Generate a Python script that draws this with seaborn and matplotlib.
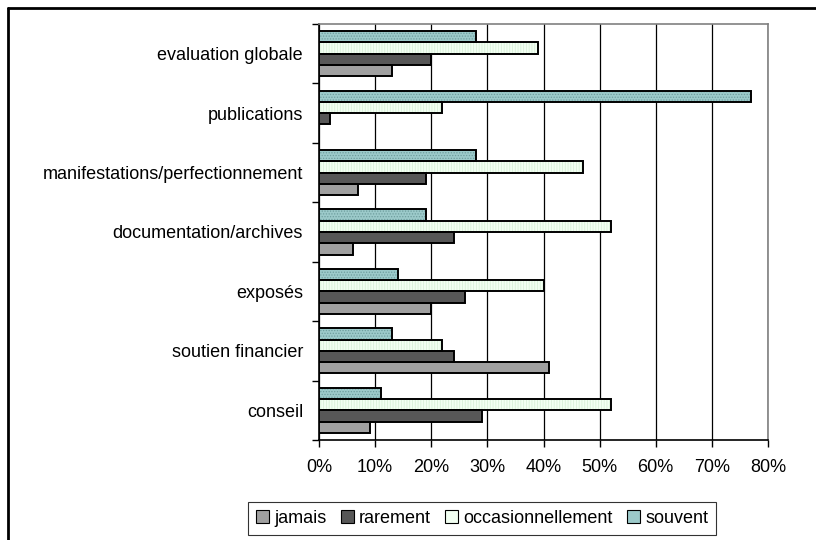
import matplotlib
matplotlib.use("Agg")
import numpy as np
import pandas as pd
import matplotlib.pyplot as plt
import seaborn as sns
from matplotlib.patches import Rectangle, Patch
from matplotlib.lines import Line2D
from matplotlib.ticker import PercentFormatter, FixedLocator

# data (percent)
categories = ["evaluation globale", "publications", "manifestations/perfectionnement",
              "documentation/archives", "exposés", "soutien financier", "conseil"]
jamais = [13, 0, 7, 6, 20, 41, 9]
rarement = [20, 2, 19, 24, 26, 24, 29]
occasionnellement = [39, 22, 47, 52, 40, 22, 52]
souvent = [28, 77, 28, 19, 14, 13, 11]

levels = ["jamais", "rarement", "occasionnellement", "souvent"]
colors = {"jamais": "#A0A0A0", "rarement": "#575757",
          "occasionnellement": "#F2FFF2", "souvent": "#9CCACA"}
hatches = {"occasionnellement": ("||||||", "#D8F0D8"), "souvent": ("......", "#6E9E9E")}

df = pd.DataFrame({
    "categorie": categories * 4,
    "niveau": sum([[lv] * len(categories) for lv in levels], []),
    "pct": jamais + rarement + occasionnellement + souvent,
})

FS = 13

sns.set_style("white")
plt.rcParams["font.family"] = ["Liberation Sans", "DejaVu Sans"]
plt.rcParams["hatch.linewidth"] = 0.6
plt.rcParams["text.color"] = "black"
plt.rcParams["xtick.color"] = "black"
plt.rcParams["ytick.color"] = "black"

fig = plt.figure(figsize=(8.16, 5.4), dpi=100)
ax = fig.add_axes([319 / 816, 1 - 440 / 540, (768 - 319) / 816, (440 - 24) / 540])

# top-to-bottom inside each group: souvent ... jamais
draw_order = levels[::-1]
sns.barplot(data=df, y="categorie", x="pct", hue="niveau", order=categories,
            hue_order=draw_order, palette=colors, orient="h", width=0.76,
            saturation=1, legend=False, ax=ax, zorder=3)

for cont, lv in zip(ax.containers, draw_order):
    for bar in cont:
        if lv in hatches:
            h, hc = hatches[lv]
            bar.set_hatch(h)
            bar.set_edgecolor(hc)
        else:
            bar.set_edgecolor("black")
        bar.set_linewidth(0)
        if bar.get_width() > 0:
            ax.add_patch(Rectangle(bar.get_xy(), bar.get_width(), bar.get_height(),
                                   fill=False, edgecolor="black", lw=1.4, zorder=4))

ax.set_xlim(0, 80)
ax.set_ylim(len(categories) - 0.5, -0.5)
ax.set_xticks(range(0, 81, 10))
ax.xaxis.set_major_formatter(PercentFormatter(xmax=100, decimals=0))
ax.set_xlabel("")
ax.set_ylabel("")

ax.grid(axis="x", color="black", lw=0.9, zorder=0)
ax.grid(axis="y", visible=False)

# category ticks sit between the groups
ax.yaxis.set_minor_locator(FixedLocator(np.arange(-0.5, len(categories), 1)))
ax.tick_params(axis="y", which="major", length=0, pad=11.5, labelsize=FS)
ax.tick_params(axis="y", which="minor", length=5, width=1, color="black", left=True)
ax.tick_params(axis="x", length=5, width=1, color="black", bottom=True,
               pad=9, labelsize=FS)

for side in ["left", "bottom"]:
    ax.spines[side].set_color("black")
    ax.spines[side].set_linewidth(1.2)
for side in ["top", "right"]:
    ax.spines[side].set_color("#808080")
    ax.spines[side].set_linewidth(1.2)

handles = [Patch(facecolor=colors[lv], edgecolor="black", lw=0.8) for lv in levels]
leg = fig.legend(handles, levels, loc="lower left", bbox_to_anchor=(248 / 816, 5 / 540),
                 ncol=4, frameon=True, fancybox=False, fontsize=FS,
                 handlelength=0.7, handleheight=0.7, handletextpad=0.3,
                 columnspacing=0.8, borderpad=0.45, borderaxespad=0)
leg.get_frame().set_edgecolor("black")
leg.get_frame().set_linewidth(0.8)

# outer chart frame (only top and left edges visible in the crop)
fig.add_artist(Line2D([8 / 816, 8 / 816], [0, 1 - 8 / 540], color="black", lw=2,
                      transform=fig.transFigure))
fig.add_artist(Line2D([8 / 816, 1], [1 - 8 / 540, 1 - 8 / 540], color="black", lw=2,
                      transform=fig.transFigure))

fig.savefig("out.png", dpi=100)
